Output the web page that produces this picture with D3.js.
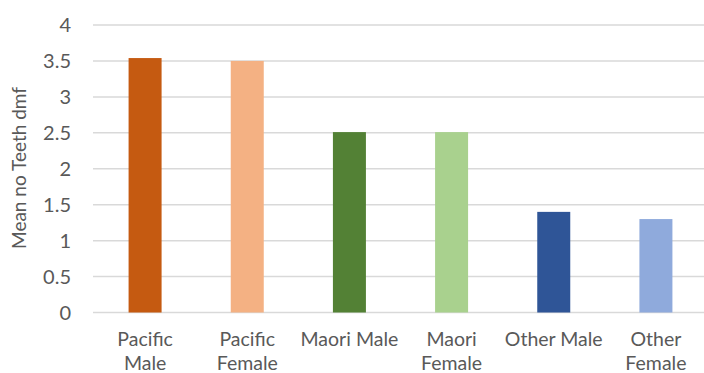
<!DOCTYPE html>
<html>
<head>
<meta charset="utf-8">
<script src="https://cdn.jsdelivr.net/npm/d3@7"></script>
<style>
  html, body { margin: 0; padding: 0; background: #fff; }
  svg { display: block; }
  text { font-family: Lato, "Open Sans", sans-serif; fill: #595959; }
</style>
</head>
<body>
<svg id="chart" width="704" height="373"></svg>
<script>
// Mean number of decayed/missing/filled teeth by group
const categories = ["Pacific Male", "Pacific Female", "Maori Male", "Maori Female", "Other Male", "Other Female"];
const categoryLines = [["Pacific", "Male"], ["Pacific", "Female"], ["Maori Male"], ["Maori", "Female"], ["Other Male"], ["Other", "Female"]];
const values = [3.54, 3.50, 2.51, 2.51, 1.40, 1.30];
const colors = ["#C55A11", "#F4B183", "#538135", "#A9D18E", "#2F5597", "#8FAADC"];
const yTicks = [0, 0.5, 1, 1.5, 2, 2.5, 3, 3.5, 4];
const yTitle = "Mean no Teeth dmf";

const svg = d3.select("#chart");

const x = d3.scaleBand()
  .domain(categories)
  .range([94, 707])
  .paddingInner(0.677)
  .paddingOuter(0.3385);

const y = d3.scaleLinear()
  .domain([0, 4])
  .range([312.5, 25]);

// horizontal gridlines
svg.append("g")
  .selectAll("line")
  .data(yTicks)
  .join("line")
  .attr("x1", 93)
  .attr("x2", 704)
  .attr("y1", d => y(d))
  .attr("y2", d => y(d))
  .attr("stroke", "#d9d9d9")
  .attr("stroke-width", 1.5);

// y tick labels
svg.append("g")
  .selectAll("text")
  .data(yTicks)
  .join("text")
  .attr("x", 71)
  .attr("y", d => y(d))
  .attr("dy", "0.36em")
  .attr("text-anchor", "end")
  .attr("font-size", 20)
  .text(d => String(d));

// bars
svg.append("g")
  .selectAll("rect")
  .data(categories)
  .join("rect")
  .attr("x", d => x(d))
  .attr("width", x.bandwidth())
  .attr("y", (d, i) => y(values[i]))
  .attr("height", (d, i) => y(0) - y(values[i]))
  .attr("fill", (d, i) => colors[i]);

// category labels
const labels = svg.append("g")
  .selectAll("text")
  .data(categories)
  .join("text")
  .attr("text-anchor", "middle")
  .attr("font-size", 19.5)
  .attr("transform", d => `translate(${x(d) + x.bandwidth() / 2},0)`);

labels.selectAll("tspan")
  .data((d, i) => categoryLines[i])
  .join("tspan")
  .attr("x", 0)
  .attr("y", (d, j) => 346 + j * 24)
  .text(d => d);

// y axis title
svg.append("text")
  .attr("transform", "translate(26,168) rotate(-90)")
  .attr("text-anchor", "middle")
  .attr("font-size", 19)
  .text(yTitle);
</script>
</body>
</html>
